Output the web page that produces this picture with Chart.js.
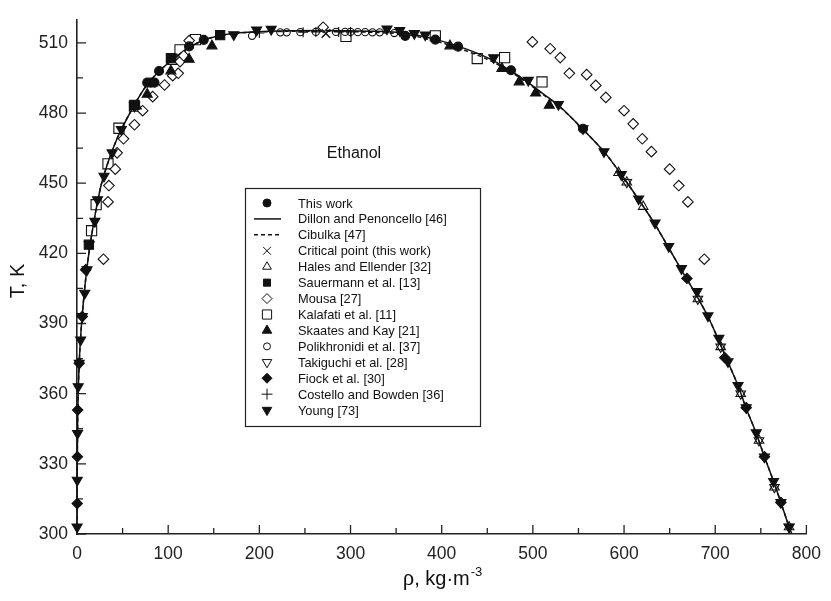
<!DOCTYPE html>
<html>
<head>
<meta charset="utf-8">
<script src="https://cdn.jsdelivr.net/npm/chart.js@4/dist/chart.umd.min.js"></script>
<style>
  html, body { margin: 0; padding: 0; background: #fff; }
  #wrap { width: 831px; height: 601px; }
</style>
</head>
<body>
<div id="wrap"><canvas id="grafico"></canvas></div>
<script>
// eixos
const xTicks = [0, 100, 200, 300, 400, 500, 600, 700, 800];
const xMinor = [50, 150, 250, 350, 450, 550, 650, 750];
const yTicks = [300, 330, 360, 390, 420, 450, 480, 510];
const yMinor = [315, 345, 375, 405, 435, 465, 495];

// curvas [rho, T]
const dillon = [[0,300],[0.05,310],[0.15,320],[0.3,330],[0.5,340],[0.8,350],[1.3,360],[2.1,370],[3.3,380],[5,390],[7.2,400],[9.8,410],[13,420],[17,430],[21.5,440],[27,450],[35,460],[45,470],[58,480],[73,490],[83,495],[96,500],[112,505],[127,509],[145,512],[170,514],[210,515],[270,515.3],[320,515],[360,514.2],[393,511.5],[418,508.6],[450,503.7],[476,498],[495,493],[512,488],[529,483],[555,473],[578,463.5],[597,453.7],[616,443],[633,433],[648,423],[662,413.5],[678,403],[692,393],[703,383.5],[714,373.5],[725,363.5],[734,353.7],[745,343],[754,333],[764,322.5],[772,313.5],[781,303],[784,300]];
const cibulka = [[0,300],[0.05,310],[0.15,320],[0.3,330],[0.5,340],[0.8,350],[1.3,360],[2.1,370],[3.3,380],[5,390],[7.2,400],[9.8,410],[13,420],[17,430],[21.5,440],[27,450],[35,460],[45,470],[58,480],[73,490],[83,495],[96,500],[112,505],[127,509],[145,512],[170,514],[210,514.8],[270,515],[320,514.6],[360,513.6],[393,510.8],[418,507.8],[450,503],[476,497.5],[495,492.6],[512,487.7],[529,482.8],[555,473],[578,463.5],[597,453.7],[616,443],[633,433],[648,423],[662,413.5],[678,403],[692,393],[703,383.5],[714,373.5],[725,363.5],[734,353.7],[745,343],[754,333],[764,322.5],[772,313.5],[781,303],[784,300]];

// pontos experimentais [rho, T]
const thisWork = [[77,493],[81,493],[85,493],[90,498],[123,508.5],[139,511.3],[360,513],[393,511.4],[418,508.4],[476,498.3],[555,473.3]];
const critico = [[273,514]];
const hales = [[594,454.5],[603,450.4],[621,440],[681,400.5],[706,380],[728,360],[748,340],[765,320],[781,303]];
const sauermann = [[13,423.7],[63,483.5],[103,503.5],[157,513.3]];
const mousa = [[29,417.5],[34,442],[35,449],[42,456],[44,463],[51,469],[63,475],[72,481],[83,487],[96,492],[105,496],[111,497],[113,502],[117,504.5],[123,511],[270,516.7],[499.5,510.4],[519,507.5],[530,503.7],[540,497],[559,496.4],[569,491.8],[580,486.7],[600,481],[610,475.4],[620,469],[630,463.5],[650,456],[660,449],[670,442],[688,417.5]];
const kalafati = [[16,429.7],[21,440.8],[34,458.3],[46,473.5],[63,483],[104,503],[113,507],[130,511.4],[295,512.8],[393,513],[439,503.3],[469,503.7],[510,493.3]];
const skaates = [[65,483],[77,488],[103,498],[123,503],[148,508.7],[409,508.7],[466,499],[485,493.3],[503,488.5],[518,483.3]];
const polikhronidi = [[192,513],[223,514.5],[230,514.5],[245,514.6],[262,514.7],[284,514.7],[294,514.7],[300,514.7],[308,514.6],[316,514.6],[324,514.5],[332,514.5],[348,514.2]];
const takiguchi = [[603,450.4],[681,400.5],[706,380],[728,360],[748,340],[765,320],[781,303]];
const fiock = [[0.2,313],[0.4,333],[0.7,353],[2.4,373],[5.8,393],[9.5,413],[669,409.3],[710.5,375.4],[734,354],[754,333],[772,313.5]];
const costello = [[200,514.2],[248,514.6],[262,514.7],[287,514.7],[300,514.7]];
const young = [[0.1,303],[0.3,323],[0.6,343],[1.3,363],[2.4,373],[4,383],[5.8,393],[8.5,403],[11,413],[13.4,423.7],[19.6,433.7],[22.5,443],[29.6,453],[38.5,463],[48.6,473],[63,483],[172,513.5],[197,515.5],[213,515.8],[340,516],[354,515.3],[370,514],[382,513.4],[457,503.7],[495,494],[528,483.7],[555,473.3],[578,463.5],[597,453.7],[616,443.3],[634,433],[649,423],[663,413.5],[680,403.7],[692,393.3],[704,383.7],[714,373.7],[725,363.5],[734,354],[745,343.3],[754,333],[764,322.5],[772,313.5],[781,303]];

const preto = '#111';
const vazio = 'rgba(0,0,0,0)';
const toXY = arr => arr.map(([x, y]) => ({ x, y }));

function serie(label, pts, estilo, extra) {
  return Object.assign({
    label, data: toXY(pts), showLine: false, clip: false,
    pointStyle: estilo, pointRadius: 4.5, pointBorderWidth: 1.1,
    pointBorderColor: preto, pointBackgroundColor: preto,
    borderColor: preto, backgroundColor: preto
  }, extra || {});
}
function curva(label, pts, dash) {
  return {
    label, data: toXY(pts), showLine: true, tension: 0.3, pointRadius: 0,
    borderColor: preto, borderWidth: 1.5, borderDash: dash, order: 10
  };
}

const legenda = [
  { t: 'This work', s: 'circle', r: 4, fill: true },
  { t: 'Dillon and Penoncello [46]', line: [] },
  { t: 'Cibulka [47]', line: [4, 3] },
  { t: 'Critical point (this work)', s: 'crossRot', r: 5.5, fill: false },
  { t: 'Hales and Ellender [32]', s: 'triangle', r: 5, fill: false },
  { t: 'Sauermann et al. [13]', s: 'rect', r: 5, fill: true },
  { t: 'Mousa [27]', s: 'rectRot', r: 5, fill: false },
  { t: 'Kalafati et al. [11]', s: 'rect', r: 6.5, fill: false },
  { t: 'Skaates and Kay [21]', s: 'triangle', r: 5.5, fill: true },
  { t: 'Polikhronidi et al. [37]', s: 'circle', r: 3.5, fill: false },
  { t: 'Takiguchi et al. [28]', s: 'triangle', r: 5.5, fill: false, rot: 180 },
  { t: 'Fiock et al. [30]', s: 'rectRot', r: 5, fill: true },
  { t: 'Costello and Bowden [36]', s: 'cross', r: 5.5, fill: false },
  { t: 'Young [73]', s: 'triangle', r: 5.5, fill: true, rot: 180 }
];

const enfeites = {
  id: 'enfeites',
  beforeDatasetsDraw(chart) {
    const { ctx, chartArea: a, scales: { x, y } } = chart;
    ctx.save();
    ctx.strokeStyle = '#222';
    ctx.lineWidth = 1.3;
    ctx.beginPath();
    yTicks.forEach(v => { const p = y.getPixelForValue(v); ctx.moveTo(a.left, p); ctx.lineTo(a.left + 9, p); });
    yMinor.forEach(v => { const p = y.getPixelForValue(v); ctx.moveTo(a.left, p); ctx.lineTo(a.left + 6, p); });
    xTicks.forEach(v => { const p = x.getPixelForValue(v); ctx.moveTo(p, a.bottom); ctx.lineTo(p, a.bottom - 9); });
    xMinor.forEach(v => { const p = x.getPixelForValue(v); ctx.moveTo(p, a.bottom); ctx.lineTo(p, a.bottom - 6); });
    ctx.stroke();
    ctx.restore();
  },
  afterDraw(chart) {
    const ctx = chart.ctx;
    ctx.save();
    ctx.fillStyle = '#111';
    // titulo do eixo y
    ctx.font = '20px "Liberation Sans", Arial, sans-serif';
    ctx.textAlign = 'center';
    ctx.textBaseline = 'middle';
    ctx.translate(18, 281);
    ctx.rotate(-Math.PI / 2);
    ctx.fillText('T, K', 0, 0);
    ctx.setTransform(1, 0, 0, 1, 0, 0);
    // titulo do eixo x
    ctx.textAlign = 'left';
    ctx.textBaseline = 'alphabetic';
    const f1 = '23px "Liberation Serif", serif';
    const f2 = '20px "Liberation Sans", Arial, sans-serif';
    const f3 = '13px "Liberation Sans", Arial, sans-serif';
    ctx.font = f1; const w1 = ctx.measureText('ρ').width;
    ctx.font = f2; const w2 = ctx.measureText(', kg·m').width;
    ctx.font = f3; const w3 = ctx.measureText('-3').width;
    let x0 = 442 - (w1 + w2 + w3) / 2;
    const base = 585;
    ctx.font = f1; ctx.fillText('ρ', x0, base); x0 += w1;
    ctx.font = f2; ctx.fillText(', kg·m', x0, base); x0 += w2;
    ctx.font = f3; ctx.fillText('-3', x0 + 1, base - 9);
    // nome da substancia
    ctx.font = '16px "Liberation Sans", Arial, sans-serif';
    ctx.textAlign = 'center';
    ctx.textBaseline = 'middle';
    ctx.fillText('Ethanol', 354, 154);
    // caixa da legenda
    ctx.fillStyle = '#fff';
    ctx.fillRect(245, 188, 235, 238);
    ctx.strokeStyle = '#222';
    ctx.lineWidth = 1.2;
    ctx.strokeRect(245.5, 188.5, 235, 238);
    ctx.font = '12.8px "Liberation Sans", Arial, sans-serif';
    ctx.textAlign = 'left';
    legenda.forEach((it, i) => {
      const yy = 203 + i * 15.93;
      ctx.strokeStyle = '#111';
      ctx.fillStyle = '#111';
      if (it.line) {
        ctx.lineWidth = 1.5;
        ctx.setLineDash(it.line);
        ctx.beginPath(); ctx.moveTo(254, yy); ctx.lineTo(281, yy); ctx.stroke();
        ctx.setLineDash([]);
      } else {
        ctx.lineWidth = 1;
        ctx.fillStyle = it.fill ? '#111' : '#fff';
        Chart.helpers.drawPoint(ctx, { pointStyle: it.s, radius: it.r, rotation: it.rot || 0, borderWidth: 1 }, 267, yy);
      }
      ctx.fillStyle = '#111';
      ctx.fillText(it.t, 298, yy + 1);
    });
    ctx.restore();
  }
};

const ctx = document.getElementById('grafico');
new Chart(ctx, {
  type: 'scatter',
  data: {
    datasets: [
      serie('This work', thisWork, 'circle', { pointRadius: 4.5 }),
      serie('Young [73]', young, 'triangle', { pointRadius: 5.8, pointRotation: 180 }),
      serie('Fiock et al. [30]', fiock, 'rectRot', { pointRadius: 5.2 }),
      serie('Sauermann et al. [13]', sauermann, 'rect', { pointRadius: 6.5 }),
      serie('Skaates and Kay [21]', skaates, 'triangle', { pointRadius: 5.8 }),
      serie('Critical point (this work)', critico, 'crossRot', { pointRadius: 6, pointBorderWidth: 1.5 }),
      serie('Costello and Bowden [36]', costello, 'cross', { pointRadius: 5 }),
      serie('Hales and Ellender [32]', hales, 'triangle', { pointRadius: 5.5, pointBackgroundColor: vazio }),
      serie('Takiguchi et al. [28]', takiguchi, 'triangle', { pointRadius: 5.5, pointRotation: 180, pointBackgroundColor: vazio }),
      serie('Mousa [27]', mousa, 'rectRot', { pointRadius: 5.3, pointBackgroundColor: '#fff' }),
      serie('Kalafati et al. [11]', kalafati, 'rect', { pointRadius: 7.2, pointBackgroundColor: vazio }),
      serie('Polikhronidi et al. [37]', polikhronidi, 'circle', { pointRadius: 3.6, pointBackgroundColor: vazio }),
      curva('Dillon and Penoncello [46]', dillon, []),
      curva('Cibulka [47]', cibulka, [4, 3])
    ]
  },
  options: {
    responsive: true,
    maintainAspectRatio: false,
    animation: false,
    events: [],
    layout: { padding: { left: 0, right: 19, top: 6, bottom: 0 } },
    plugins: { legend: { display: false }, tooltip: { enabled: false } },
    scales: {
      x: {
        type: 'linear', min: 0, max: 800,
        afterBuildTicks: s => { s.ticks = xTicks.map(v => ({ value: v })); },
        afterFit: s => { s.height = 67; },
        grid: { display: false, drawTicks: false },
        border: { display: true, color: '#222', width: 1.6 },
        ticks: { padding: 10, color: '#222', font: { family: '"Liberation Sans", Arial, sans-serif', size: 17.5 } }
      },
      y: {
        type: 'linear', min: 300, max: 520,
        afterBuildTicks: s => { s.ticks = yTicks.map(v => ({ value: v })); },
        afterFit: s => { s.width = 77; },
        grid: { display: false, drawTicks: false },
        border: { display: true, color: '#222', width: 1.6 },
        ticks: { padding: 9, color: '#222', font: { family: '"Liberation Sans", Arial, sans-serif', size: 17.5 } }
      }
    }
  },
  plugins: [enfeites]
});
</script>
</body>
</html>
